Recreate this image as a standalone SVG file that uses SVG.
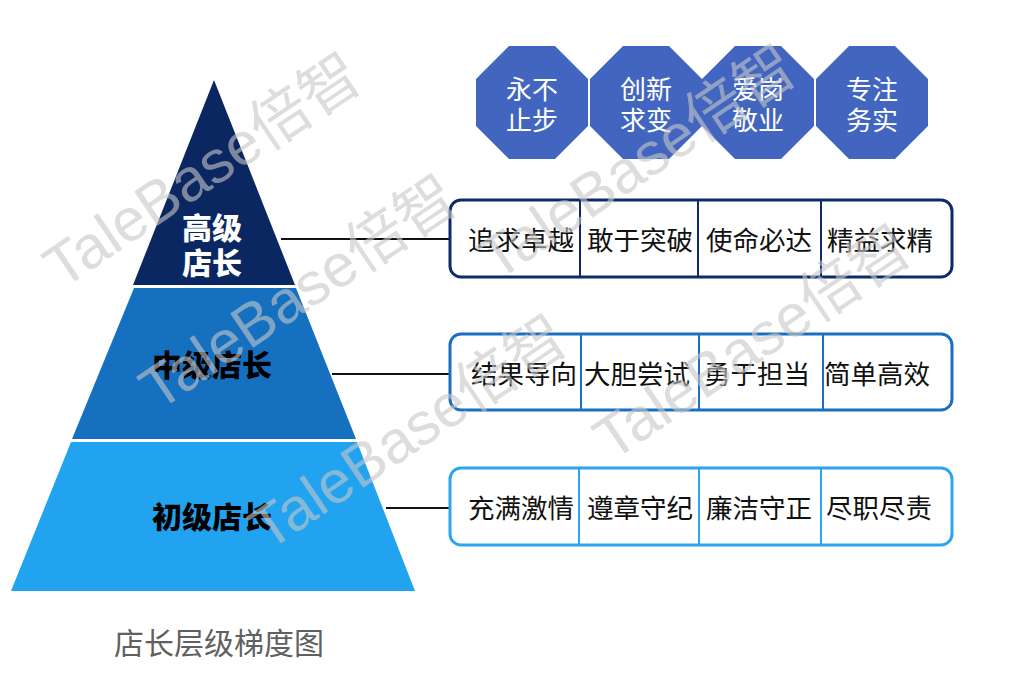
<svg xmlns="http://www.w3.org/2000/svg" width="1014" height="680" viewBox="0 0 1014 680">
<style>
.cjk{font-family:"Noto Sans CJK SC","Liberation Sans",sans-serif;}
.tier{font-weight:900;font-size:30px;text-anchor:middle;}
.cell{font-size:26.5px;fill:#111;text-anchor:middle;}
.oct{fill:#4266c0;}
.octt{font-size:26px;fill:#fff;text-anchor:middle;}
.box{fill:#fff;stroke-width:3;}
.conn{stroke:#111;stroke-width:2;fill:none;}
.wm{font-family:"Liberation Sans","Noto Sans CJK SC",sans-serif;font-size:60px;fill:#c8c8c8;opacity:0.6;}
</style>
<rect width="1014" height="680" fill="#fff"/>

<g id="tier-senior">
<polygon points="214,80 295,285 133,285" fill="#0b2762"/>
<text class="cjk tier" x="212" y="239" fill="#fff">高级</text>
<text class="cjk tier" x="212" y="274" fill="#fff">店长</text>
</g>
<g id="tier-middle">
<polygon points="134,288 296,288 356,439 72,439" fill="#1570c0"/>
<text class="cjk tier" x="212" y="376" fill="#000">中级店长</text>
</g>
<g id="tier-junior">
<polygon points="71,442 357,442 415,591 11,591" fill="#22a3f0"/>
<text class="cjk tier" x="212" y="528" fill="#000">初级店长</text>
</g>

<g id="connectors">
<line class="conn" x1="281" y1="239" x2="450" y2="239"/>
<line class="conn" x1="332" y1="374" x2="450" y2="374"/>
<line class="conn" x1="386" y1="508" x2="450" y2="508"/>
</g>

<g id="values-senior">
<rect class="box" x="450" y="200" width="502" height="77" rx="11" stroke="#0f2a68"/>
<g stroke="#0f2a68" stroke-width="2">
<line x1="580" y1="201" x2="580" y2="276"/>
<line x1="698" y1="201" x2="698" y2="276"/>
<line x1="821" y1="201" x2="821" y2="276"/>
</g>
<text class="cjk cell" x="521" y="250">追求卓越</text>
<text class="cjk cell" x="640" y="250">敢于突破</text>
<text class="cjk cell" x="759" y="250">使命必达</text>
<text class="cjk cell" x="880" y="250">精益求精</text>
</g>

<g id="values-middle">
<rect class="box" x="450" y="334" width="502" height="76" rx="11" stroke="#1a6fc0"/>
<g stroke="#1a6fc0" stroke-width="2">
<line x1="581" y1="335" x2="581" y2="409"/>
<line x1="699" y1="335" x2="699" y2="409"/>
<line x1="823" y1="335" x2="823" y2="409"/>
</g>
<text class="cjk cell" x="524" y="384">结果导向</text>
<text class="cjk cell" x="637" y="384">大胆尝试</text>
<text class="cjk cell" x="757" y="384">勇于担当</text>
<text class="cjk cell" x="877" y="384">简单高效</text>
</g>

<g id="values-junior">
<rect class="box" x="450" y="468" width="502" height="77" rx="11" stroke="#2aa6ee"/>
<g stroke="#2aa6ee" stroke-width="2">
<line x1="579" y1="469" x2="579" y2="544"/>
<line x1="699" y1="469" x2="699" y2="544"/>
<line x1="821" y1="469" x2="821" y2="544"/>
</g>
<text class="cjk cell" x="521" y="518">充满激情</text>
<text class="cjk cell" x="640" y="518">遵章守纪</text>
<text class="cjk cell" x="759" y="518">廉洁守正</text>
<text class="cjk cell" x="879" y="518">尽职尽责</text>
</g>

<g id="oct-1">
<polygon class="oct" points="509,46 555,46 588,79 588,126 555,159 509,159 476,126 476,79"/>
<text class="cjk octt" x="532" y="99">永不</text>
<text class="cjk octt" x="532" y="130">止步</text>
</g>
<g id="oct-2">
<polygon class="oct" points="623,46 669,46 702,79 702,126 669,159 623,159 590,126 590,79"/>
<text class="cjk octt" x="646" y="99">创新</text>
<text class="cjk octt" x="646" y="130">求变</text>
</g>
<g id="oct-3">
<polygon class="oct" points="735,46 781,46 814,79 814,126 781,159 735,159 702,126 702,79"/>
<text class="cjk octt" x="758" y="99">爱岗</text>
<text class="cjk octt" x="758" y="130">敬业</text>
</g>
<g id="oct-4">
<polygon class="oct" points="849,46 895,46 928,79 928,126 895,159 849,159 816,126 816,79"/>
<text class="cjk octt" x="872" y="99">专注</text>
<text class="cjk octt" x="872" y="130">务实</text>
</g>

<text class="cjk" x="219" y="654" font-size="30" fill="#606060" text-anchor="middle">店长层级梯度图</text>

<g id="watermarks">
<text class="wm" transform="translate(62,290) rotate(-34)">TaleBase倍智</text>
<text class="wm" transform="translate(158,412) rotate(-34)">TaleBase倍智</text>
<text class="wm" transform="translate(268,552) rotate(-34)">TaleBase倍智</text>
<text class="wm" transform="translate(497,282) rotate(-34)">TaleBase倍智</text>
<text class="wm" transform="translate(612,462) rotate(-34)">TaleBase倍智</text>
</g>
</svg>
